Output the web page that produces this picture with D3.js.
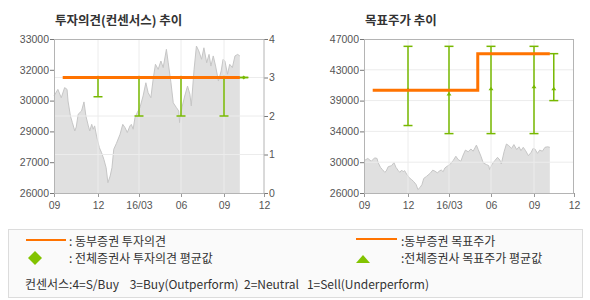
<!DOCTYPE html>
<html>
<head>
<meta charset="utf-8">
<script src="https://cdn.jsdelivr.net/npm/d3@7"></script>
<style>
  body { margin: 0; background: #fff; }
  text { font-family: "Liberation Sans", Arial, sans-serif; }
  .kr { font-family: "Noto Sans CJK KR", sans-serif; }
</style>
</head>
<body>
<div id="chart"></div>
<script>
// daily close
const priceDates = ["2015-09-01","2015-09-09","2015-09-16","2015-09-23","2015-09-28","2015-09-30","2015-10-05","2015-10-09","2015-10-14","2015-10-17","2015-10-21","2015-10-28","2015-11-02","2015-11-06","2015-11-11","2015-11-14","2015-11-18","2015-11-21","2015-11-24","2015-11-28",
  "2015-12-04","2015-12-09","2015-12-14","2015-12-19","2015-12-23","2015-12-28","2016-01-01","2016-01-05","2016-01-11","2016-01-19","2016-01-25","2016-01-30","2016-02-04","2016-02-10","2016-02-13","2016-02-17","2016-02-21","2016-02-26",
  "2016-03-03","2016-03-10","2016-03-16","2016-03-21","2016-03-27","2016-04-01","2016-04-06","2016-04-12","2016-04-18","2016-04-23","2016-04-30","2016-05-04","2016-05-10","2016-05-15","2016-05-22","2016-05-27","2016-05-29",
  "2016-06-03","2016-06-09","2016-06-15","2016-06-20","2016-06-23","2016-06-29","2016-07-04","2016-07-09","2016-07-15","2016-07-20","2016-07-26","2016-07-31","2016-08-04","2016-08-09","2016-08-14","2016-08-20","2016-08-26","2016-08-30",
  "2016-09-03","2016-09-09","2016-09-14","2016-09-20","2016-09-26","2016-10-02","2016-10-07"];
const priceValues = [30410,30710,30330,30790,30710,30180,29500,29200,28820,29000,29580,29730,30140,29500,29050,28820,29120,28900,29050,28590,
  28060,27830,27530,27150,26470,26770,27150,27990,28260,28670,29120,28970,28750,29050,29120,28900,29420,29650,
  29880,30410,31010,30560,30330,31170,31850,31620,32000,31700,32530,31920,31010,30100,29880,29730,29200,
  29880,30410,30860,30490,29960,31620,32680,32460,32080,32600,31920,32300,31770,32230,31770,31090,31550,32080,
  32000,31400,31850,31700,32230,32300,32230];

// 동부증권 series
const opinionDates = ["2015-09-19","2016-10-07"];
const opinionValues = [3, 3];
const targetDates = ["2015-09-19","2016-05-03","2016-10-07"];
const targetValues = [40000, 45000, 45000];

// 전체증권사 consensus (max / min / average)
const consDates = ["2015-12-01","2016-03-01","2016-06-01","2016-09-01","2016-10-16"];
const opMax = [3, 3, 3, 3, 3];
const opMin = [2.5, 2, 2, 2, 3];
const opAvg = [3, 3, 3, 3, 3];
const tpMax = [46000, 46000, 46000, 46000, 45000];
const tpMin = [35200, 34100, 34100, 34100, 38600];
const tpAvg = [40100, 39500, 40200, 40500, 40200];

// axes
const xTickDates = ["2015-09-01","2015-12-01","2016-03-01","2016-06-01","2016-09-01","2016-12-01"];
const xTickLabels = ["09","12","16/03","06","09","12"];
const leftPriceTicks = [26000, 27400, 28800, 30200, 31600, 33000];
const leftPriceLabels = ["26000","27000","29000","30000","32000","33000"];
const rightPriceTicks = [26000, 30200, 34400, 38600, 42800, 47000];
const rightPriceLabels = ["26000","30000","34000","39000","43000","47000"];
const opinionTicks = [0, 1, 2, 3, 4];

const ORANGE = "#ff7300", GREEN = "#77b800", GRID = "#ececec";
const parse = d3.timeParse("%Y-%m-%d");
const price = priceDates.map((d, i) => ({date: parse(d), v: priceValues[i]}));

const svg = d3.select("#chart").append("svg")
    .attr("width", 590).attr("height", 300);

const plotTop = 39, plotBottom = 193;
// month spacing as drawn in the original (not exactly proportional)
const monthSteps = [0, 44, 85, 127, 170, 210];

function panel(left, title, priceDomain, pTicks, pLabels) {
    const g = svg.append("g");
    const x = d3.scaleTime()
        .domain(xTickDates.map(parse))
        .range(monthSteps.map(s => left + s));
    const y = d3.scaleLinear().domain(priceDomain).range([plotBottom, plotTop]);
    const right = left + 210;

    g.append("text").attr("class", "kr")
        .attr("x", left + 1).attr("y", 25)
        .attr("font-size", "12.5px").attr("font-weight", "bold")
        .attr("fill", "#333").text(title);

    // price area
    g.append("path").datum(price)
        .attr("fill", "#e0e0e0")
        .attr("d", d3.area().x(d => x(d.date)).y0(plotBottom).y1(d => y(d.v)));
    g.append("path").datum(price)
        .attr("fill", "none").attr("stroke", "#c6c6c6")
        .attr("d", d3.line().x(d => x(d.date)).y(d => y(d.v)));

    // vertical grid (drawn over the area, as in the original)
    g.append("g").attr("class", "grid").selectAll("line")
        .data(xTickDates.slice(1, -1).map(parse))
        .join("line")
        .attr("x1", d => x(d)).attr("x2", d => x(d))
        .attr("y1", plotTop).attr("y2", plotBottom)
        .attr("stroke", GRID);

    // left price axis
    g.append("g").attr("transform", `translate(${left},0)`)
        .call(d3.axisLeft(y).tickValues(pTicks)
            .tickFormat((d, i) => pLabels[i]).tickSize(4).tickPadding(1))
        .call(a => a.select(".domain").remove())
        .call(a => a.selectAll("line").attr("stroke", "#777"))
        .call(a => a.selectAll("text").attr("fill", "#555")
            .attr("font-size", "10.5px").attr("font-family", "Liberation Sans, Arial, sans-serif"));

    // bottom axis
    g.append("g").attr("transform", `translate(0,${plotBottom})`)
        .call(d3.axisBottom(x).tickValues(xTickDates.map(parse))
            .tickFormat((d, i) => xTickLabels[i]).tickSize(4).tickPadding(5))
        .call(a => a.select(".domain").remove())
        .call(a => a.selectAll("line").attr("stroke", "#999"))
        .call(a => a.selectAll("text").attr("fill", "#555")
            .attr("font-size", "10.5px").attr("font-family", "Liberation Sans, Arial, sans-serif"));

    return {g, x, y, right};
}

// ---- 투자의견 panel ----
const L = panel(54, "투자의견(컨센서스) 추이", [26000, 33000], leftPriceTicks, leftPriceLabels);
const yOp = d3.scaleLinear().domain([0, 4]).range([plotBottom, plotTop]);

L.g.append("g").selectAll("line")
    .data(opinionTicks.slice(1, -1))
    .join("line")
    .attr("x1", 54).attr("x2", L.right)
    .attr("y1", d => yOp(d)).attr("y2", d => yOp(d))
    .attr("stroke", GRID);

L.g.append("g").attr("transform", `translate(${L.right},0)`)
    .call(d3.axisRight(yOp).tickValues(opinionTicks).tickFormat(d3.format("d"))
        .tickSize(4).tickPadding(1))
    .call(a => a.select(".domain").remove())
    .call(a => a.selectAll("line").attr("stroke", "#777"))
    .call(a => a.selectAll("text").attr("fill", "#555")
        .attr("font-size", "10.5px").attr("font-family", "Liberation Sans, Arial, sans-serif"));

const opCons = consDates.map((d, i) => ({date: parse(d), max: opMax[i], min: opMin[i], avg: opAvg[i]}));
function errorBars(g, data, x, y) {
    const b = g.append("g").selectAll("g").data(data).join("g")
        .attr("stroke", GREEN).attr("stroke-width", 1.5);
    b.append("line")
        .attr("x1", d => x(d.date)).attr("x2", d => x(d.date))
        .attr("y1", d => y(d.max)).attr("y2", d => y(d.min));
    b.append("line")
        .attr("x1", d => x(d.date) - 4.5).attr("x2", d => x(d.date) + 4.5)
        .attr("y1", d => y(d.max)).attr("y2", d => y(d.max));
    b.append("line")
        .attr("x1", d => x(d.date) - 4.5).attr("x2", d => x(d.date) + 4.5)
        .attr("y1", d => y(d.min)).attr("y2", d => y(d.min));
    return b;
}
errorBars(L.g, opCons, L.x, yOp);
L.g.append("g").selectAll("path").data(opCons).join("path")
    .attr("fill", GREEN)
    .attr("d", d => {
        const cx = L.x(d.date), cy = yOp(d.avg), r = 2;
        return `M${cx},${cy - r}L${cx + r},${cy}L${cx},${cy + r}L${cx - r},${cy}Z`;
    });

L.g.append("path")
    .datum(opinionDates.map((d, i) => ({date: parse(d), v: opinionValues[i]})))
    .attr("fill", "none").attr("stroke", ORANGE).attr("stroke-width", 3)
    .attr("d", d3.line().x(d => L.x(d.date)).y(d => yOp(d.v)));

L.g.append("rect").attr("x", 54.5).attr("y", plotTop + 0.5)
    .attr("width", 209.5).attr("height", plotBottom - plotTop)
    .attr("fill", "none").attr("stroke", "#b4b4b4");

// ---- 목표주가 panel ----
const R = panel(364, "목표주가 추이", [26000, 47000], rightPriceTicks, rightPriceLabels);

R.g.append("g").selectAll("line")
    .data(rightPriceTicks.slice(1, -1))
    .join("line")
    .attr("x1", 364).attr("x2", R.right)
    .attr("y1", d => R.y(d)).attr("y2", d => R.y(d))
    .attr("stroke", GRID);

const tpCons = consDates.map((d, i) => ({date: parse(d), max: tpMax[i], min: tpMin[i], avg: tpAvg[i]}));
errorBars(R.g, tpCons, R.x, R.y);
R.g.append("g").selectAll("path").data(tpCons).join("path")
    .attr("fill", GREEN)
    .attr("d", d => {
        const cx = R.x(d.date), cy = R.y(d.avg);
        return `M${cx - 2.5},${cy + 1.5}L${cx + 2.5},${cy + 1.5}L${cx},${cy - 2}Z`;
    });

R.g.append("path")
    .datum(targetDates.map((d, i) => ({date: parse(d), v: targetValues[i]})))
    .attr("fill", "none").attr("stroke", ORANGE).attr("stroke-width", 3)
    .attr("d", d3.line().curve(d3.curveStepAfter).x(d => R.x(d.date)).y(d => R.y(d.v)));

R.g.append("rect").attr("x", 364.5).attr("y", plotTop + 0.5)
    .attr("width", 209).attr("height", plotBottom - plotTop)
    .attr("fill", "none").attr("stroke", "#b4b4b4");

// ---- legend ----
const lg = svg.append("g");
lg.append("rect").attr("x", 8.5).attr("y", 229.5).attr("width", 574).attr("height", 68)
    .attr("fill", "#fafafa").attr("stroke", "#dcdcdc");

lg.append("line").attr("x1", 26).attr("x2", 66).attr("y1", 240).attr("y2", 240)
    .attr("stroke", ORANGE).attr("stroke-width", 2);
lg.append("path").attr("fill", "#82c300")
    .attr("d", "M35,251L42,258L35,265L28,258Z");
lg.append("line").attr("x1", 356).attr("x2", 397).attr("y1", 239).attr("y2", 239)
    .attr("stroke", ORANGE).attr("stroke-width", 2);
lg.append("path").attr("fill", "#82c300")
    .attr("d", "M356,263L370,263L363,255Z");

const legendTexts = [
    {x: 69, y: 246, t: ": 동부증권 투자의견"},
    {x: 69, y: 263, t: ": 전체증권사 투자의견 평균값"},
    {x: 401, y: 246, t: ":동부증권 목표주가"},
    {x: 401, y: 263, t: ":전체증권사 목표주가 평균값"}
];
lg.selectAll("text.item").data(legendTexts).join("text")
    .attr("class", "kr item")
    .attr("x", d => d.x).attr("y", d => d.y)
    .attr("font-size", "12px").attr("fill", "#333")
    .text(d => d.t);

lg.append("text").attr("class", "kr")
    .attr("x", 25).attr("y", 289)
    .attr("font-size", "12px").attr("fill", "#333")
    .attr("xml:space", "preserve")
    .attr("textLength", 404).attr("lengthAdjust", "spacing")
    .text("컨센서스:4=S/Buy    3=Buy(Outperform)  2=Neutral   1=Sell(Underperform)");
</script>
</body>
</html>
